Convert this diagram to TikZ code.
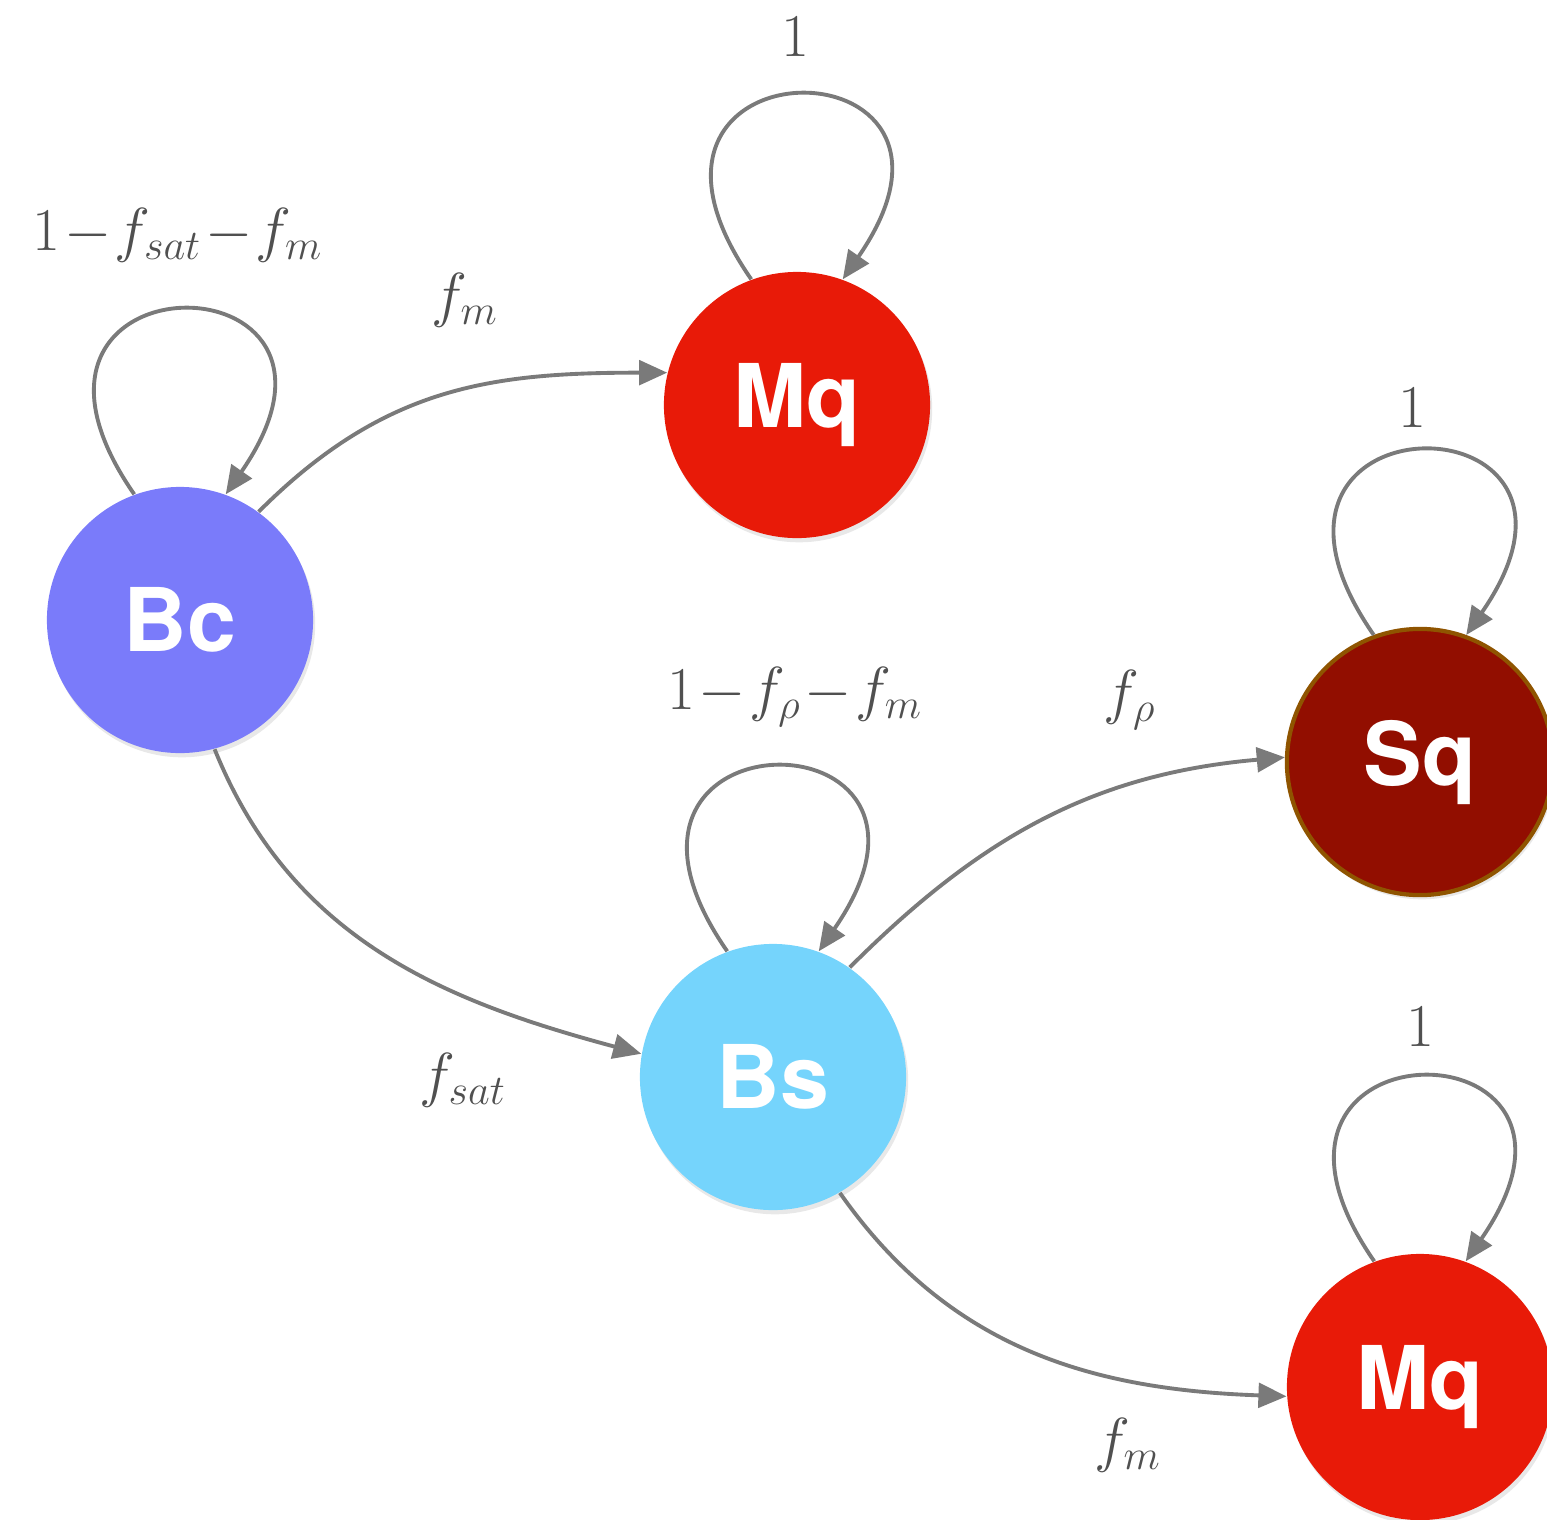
\documentclass[tikz,border=0pt]{standalone}
\usepackage{fontspec}
\setsansfont{TeX Gyre Heros}
\usetikzlibrary{arrows.meta,shadows}
\definecolor{periwinkle}{HTML}{7A7BFA}
\definecolor{scarlet}{HTML}{E81A08}
\definecolor{maroon}{HTML}{920E00}
\definecolor{ochre}{HTML}{8F5400}
\definecolor{sky}{HTML}{75D4FC}
\definecolor{edgegrey}{HTML}{7A7A7A}
\definecolor{inkgrey}{HTML}{505050}
\tikzset{
  statenode/.style={circle, minimum size=2.66cm, inner sep=0pt, text=white,
                    font=\sffamily\bfseries\fontsize{25}{30}\selectfont,
                    drop shadow={shadow xshift=0.6pt, shadow yshift=-1.2pt, opacity=0.18}},
  bcnode/.style={statenode, fill=periwinkle},
  mqnode/.style={statenode, fill=scarlet},
  sqnode/.style={statenode, fill=maroon, draw=ochre, line width=1.2pt},
  bsnode/.style={statenode, fill=sky},
  lbl/.style={text=inkgrey, inner sep=1pt, font=\fontsize{18}{22}\selectfont},
  flow/.style={-{Triangle[length=8pt,width=7pt]}, draw=edgegrey, line width=1.1pt},
}

\begin{document}
\begin{tikzpicture}[x=0.01cm,y=0.01cm]
\useasboundingbox (0,0) rectangle (1547,-1520);
\clip (0,0) rectangle (1547,-1520);
\medmuskip=1mu
\node[bcnode] (bc)  at (180,-620)  {Bc};
\node[mqnode] (mqa) at (797,-405)  {Mq};
\node[sqnode] (sq)  at (1420,-762) {Sq};
\node[bsnode] (bs)  at (773,-1077) {Bs};
\node[mqnode] (mqb) at (1420,-1387) {Mq};
% self loops
\foreach \n in {bc,mqa,sq,bs,mqb}
  \draw[flow] (\n.110) .. controls +(-170,245) and +(170,245) .. (\n.70);
% transitions
\draw[flow] (bc.54)  to[out=45,in=180,looseness=1.05] (mqa.166);
\draw[flow] (bc.285) to[out=-68,in=165] (bs.170);
\draw[flow] (bs.55)  to[out=45,in=185] (sq.178);
\draw[flow] (bs.300) to[out=-55,in=178] (mqb.184);
% weights
\node[lbl] (wmqa)  at (795,-37)   {$1$};
\node[lbl] (wbc)   at (178,-235)  {$1-f_{sat}-f_m$};
\node[lbl] (wbcmq) at (465,-300)  {$f_m$};
\node[lbl] (wsq)   at (1412,-408) {$1$};
\node[lbl] (wbs)   at (795,-697)  {$1-f_\rho-f_m$};
\node[lbl] (wbssq) at (1130,-700) {$f_\rho$};
\node[lbl] (wbcbs) at (463,-1080) {$f_{sat}$};
\node[lbl] (wmqb)  at (1420,-1027) {$1$};
\node[lbl] (wbsmq) at (1128,-1445) {$f_m$};
\end{tikzpicture}
\end{document}
